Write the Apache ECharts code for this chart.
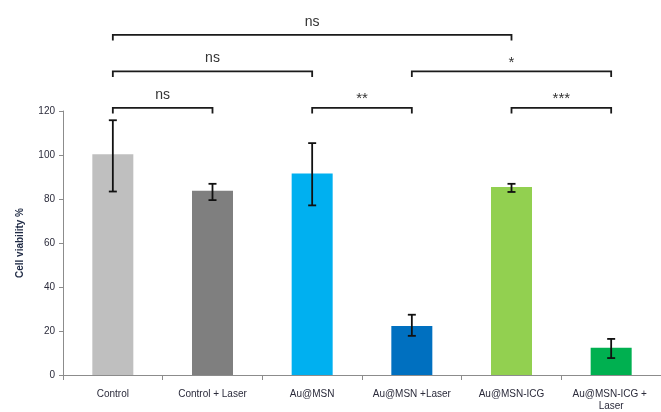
<!DOCTYPE html>
<html><head><meta charset="utf-8">
<script src="https://cdn.jsdelivr.net/npm/echarts@6/dist/echarts.min.js"></script>
<style>html,body{margin:0;padding:0;background:#fff}#c{width:661px;height:412px}</style>
</head><body><div id="c"></div>
<script>
const categories = ['Control', 'Control + Laser', 'Au@MSN', 'Au@MSN +Laser', 'Au@MSN-ICG', 'Au@MSN-ICG + Laser'];
const viability = [100.3, 83.8, 91.6, 22.3, 85.4, 12.4];
const errLow = [83.4, 79.5, 77.1, 17.8, 83.2, 7.7];
const errHigh = [115.8, 86.9, 105.4, 27.4, 86.9, 16.4];
const barColors = ['#BFBFBF', '#7F7F7F', '#00B0F0', '#0070C0', '#92D050', '#00B050'];
const yTicks = [0, 20, 40, 60, 80, 100, 120];
// significance brackets: [from category, to category, level (value units)], label
const bracketFrom = [0, 0, 3, 0, 2, 4];
const bracketTo = [4, 2, 5, 1, 3, 5];
const bracketLevel = [154.6, 138, 138, 121.4, 121.4, 121.4];
const bracketText = ['ns', 'ns', '*', 'ns', '**', '***'];

const chart = echarts.init(document.getElementById('c'));
const FONT = '"Liberation Sans", Arial, sans-serif';
chart.setOption({
  animation: false,
  grid: { left: 63, top: 111, width: 600, height: 267, containLabel: false },
  xAxis: {
    type: 'category', data: categories,
    axisLine: { lineStyle: { color: '#8c8c8c', width: 1 } },
    axisTick: { show: true, alignWithLabel: false, length: 5, lineStyle: { color: '#8c8c8c' } },
    axisLabel: { interval: 0, margin: 13, fontSize: 10, fontFamily: FONT, color: '#2b2b3b', width: 80, overflow: 'break', lineHeight: 12 }
  },
  yAxis: {
    type: 'value', min: yTicks[0], max: yTicks[yTicks.length - 1], interval: 20,
    name: 'Cell viability %', nameLocation: 'middle', nameGap: 38, nameRotate: 90,
    nameTextStyle: { fontSize: 10, fontWeight: 'bold', fontFamily: FONT, color: '#1f2a44' },
    axisLine: { show: true, lineStyle: { color: '#8c8c8c' } },
    axisTick: { show: true, length: 4, lineStyle: { color: '#8c8c8c' } },
    axisLabel: { fontSize: 10, fontFamily: FONT, color: '#2b2b3b', margin: 8 },
    splitLine: { show: false }
  },
  series: [
    {
      type: 'bar', barWidth: 41,
      data: viability.map((v, i) => ({ value: v, itemStyle: { color: barColors[i] } }))
    },
    {
      type: 'custom', clip: false, z: 5,
      data: viability.map((v, i) => [i, errLow[i], errHigh[i]]),
      renderItem: function (params, api) {
        const lo = api.coord([api.value(0), api.value(1)]);
        const hi = api.coord([api.value(0), api.value(2)]);
        const x = hi[0], w = 4;
        const st = { stroke: '#111', lineWidth: 1.8 };
        return { type: 'group', children: [
          { type: 'line', shape: { x1: x, y1: hi[1], x2: x, y2: lo[1] }, style: st },
          { type: 'line', shape: { x1: x - w, y1: hi[1], x2: x + w, y2: hi[1] }, style: st },
          { type: 'line', shape: { x1: x - w, y1: lo[1], x2: x + w, y2: lo[1] }, style: st }
        ]};
      }
    },
    {
      type: 'custom', clip: false, z: 5,
      data: bracketFrom.map((f, i) => [f, bracketTo[i], bracketLevel[i], i]),
      renderItem: function (params, api) {
        const a = api.coord([api.value(0), api.value(2)]);
        const b = api.coord([api.value(1), api.value(2)]);
        const idx = api.value(3);
        const txt = bracketText[idx];
        const isNs = txt === 'ns';
        const y = a[1], t = 5.5;
        return { type: 'group', children: [
          { type: 'polyline', shape: { points: [[a[0], y + t], [a[0], y], [b[0], y], [b[0], y + t]] },
            style: { stroke: '#1a1a1a', lineWidth: 1.8, fill: null } },
          { type: 'text', style: { text: txt, x: (a[0] + b[0]) / 2, y: isNs ? y - 13 : y - 9,
            align: 'center', verticalAlign: 'middle', fontFamily: FONT,
            fontSize: isNs ? 14 : 15, fill: '#333' } }
        ]};
      }
    }
  ]
});
</script></body></html>
